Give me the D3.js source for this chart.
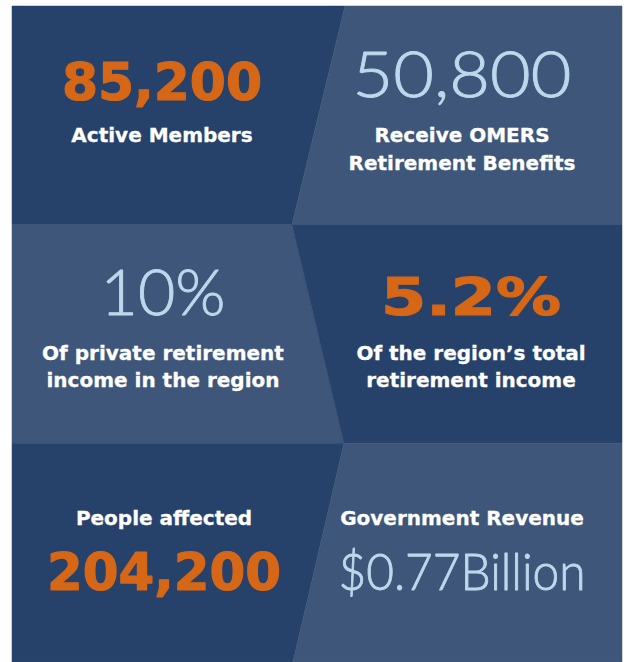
<!DOCTYPE html>
<html>
<head>
<meta charset="utf-8">
<script src="https://cdn.jsdelivr.net/npm/d3@7"></script>
<style>
  body { margin: 0; background: #fff; }
  svg { display: block; }
</style>
</head>
<body>
<script>
// figures shown in the six cells, read left to right, top to bottom
const figures = ["85,200", "50,800", "10%", "5.2%", "204,200", "$0.77Billion"];
const captions = [
    ["Active Members"],
    ["Receive OMERS", "Retirement Benefits"],
    ["Of private retirement", "income in the region"],
    ["Of the region\u2019s total", "retirement income"],
    ["People affected"],
    ["Government Revenue"]
];
const emphasis = ["bold", "light", "light", "bold", "bold", "light"];
const shade = ["dark", "light", "light", "dark", "dark", "light"];

const w = 624;
const h = 662;
const box = { left: 12, right: 622, top: 6, bottom: 662 };

const colors = { dark: "#27426a", light: "#3d5679", orange: "#d66716", pale: "#bcd8ec" };

const svg = d3.select("body")
    .append("svg")
    .attr("width", w)
    .attr("height", h);

const rowScale = d3.scaleBand()
    .domain([0, 1, 2])
    .range([box.top, box.bottom]);

// zig-zag divider: x where it meets each row boundary
const divider = [345, 292, 344, 293];

const cells = figures.map((f, i) => {
    const row = Math.floor(i / 2);
    const col = i % 2;
    const top = rowScale(row);
    const bot = top + rowScale.bandwidth();
    const dTop = divider[row];
    const dBot = divider[row + 1];
    const pts = col === 0
        ? [[box.left, top], [dTop, top], [dBot, bot], [box.left, bot]]
        : [[dTop, top], [box.right, top], [box.right, bot], [dBot, bot]];
    return { i, row, col, top, pts };
});

svg.selectAll("polygon.cell")
    .data(cells)
    .enter()
    .append("polygon")
    .attr("class", "cell")
    .attr("points", d => d.pts.map(p => p.join(",")).join(" "))
    .attr("fill", d => colors[shade[d.i]])
    .attr("stroke", d => colors[shade[d.i]])
    .attr("stroke-width", 0.5);

// layout per cell: centre x, figure baseline, caption baseline (relative to row top)
const layout = [
    { cx: 162, fig: 94, cap: 136 },
    { cx: 462, fig: 91, cap: 136 },
    { cx: 163, fig: 90, cap: 135 },
    { cx: 471, fig: 90, cap: 135 },
    { cx: 164, fig: 147, cap: 82 },
    { cx: 462, fig: 147, cap: 82 }
];
const figWidth = [200, 219, 125, 180, 234, 247];
const figSize = { bold: 51, light: 64 };

const g = svg.selectAll("g.stat")
    .data(cells)
    .enter()
    .append("g")
    .attr("class", "stat");

g.append("text")
    .attr("x", d => layout[d.i].cx)
    .attr("y", d => d.top + layout[d.i].fig)
    .attr("text-anchor", "middle")
    .attr("textLength", d => figWidth[d.i])
    .attr("lengthAdjust", "spacingAndGlyphs")
    .style("font-family", d => emphasis[d.i] === "bold" ? "'DejaVu Sans', sans-serif" : "Lato, 'Open Sans', sans-serif")
    .style("font-weight", d => emphasis[d.i] === "bold" ? 700 : 300)
    .style("font-size", d => (d.i === 5 ? 52 : figSize[emphasis[d.i]]) + "px")
    .attr("fill", d => emphasis[d.i] === "bold" ? colors.orange : colors.pale)
    .attr("stroke", d => emphasis[d.i] === "bold" ? colors.orange : colors.pale)
    .attr("stroke-width", d => emphasis[d.i] === "bold" ? 1.2 : 0.9)
    .attr("stroke-linejoin", "round")
    .text(d => figures[d.i]);

g.each(function (d) {
    d3.select(this).selectAll("text.cap")
        .data(captions[d.i])
        .enter()
        .append("text")
        .attr("class", "cap")
        .attr("x", layout[d.i].cx)
        .attr("y", (c, k) => d.top + layout[d.i].cap + k * 27.5)
        .attr("text-anchor", "middle")
        .style("font-family", "'DejaVu Sans', sans-serif")
        .style("font-weight", 700)
        .style("font-size", "20px")
        .attr("fill", "#fff")
        .attr("stroke", "#fff")
        .attr("stroke-width", 0.3)
        .text(c => c);
});
</script>
</body>
</html>
